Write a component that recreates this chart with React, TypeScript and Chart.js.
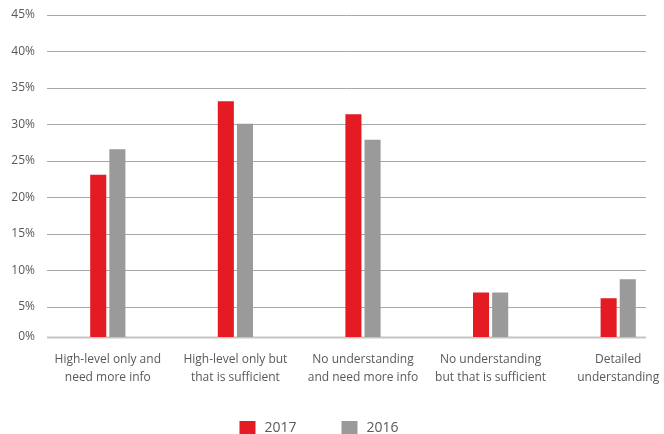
import React, { useEffect, useRef } from "react";
import { Chart, registerables } from "chart.js";
Chart.register(...registerables);

const categories: string[][] = [
  ["High-level only and", "need more info"],
  ["High-level only but", "that is sufficient"],
  ["No understanding", "and need more info"],
  ["No understanding", "but that is sufficient"],
  ["Detailed", "understanding"],
];
const series2017: number[] = [23.1, 33.2, 31.4, 7.0, 6.2];
const series2016: number[] = [26.6, 30.1, 27.9, 7.0, 8.8];
const yTickValues: number[] = [0, 5, 10, 15, 20, 25, 30, 35, 40, 45];
const Y_FLOOR = 0.89; // the reference baseline sits slightly above true zero

const FONT = "'Open Sans', sans-serif";
const TEXT_COLOR = "#595959";

const gridPlugin = {
  id: "customGrid",
  beforeDatasetsDraw(chart: any) {
    const { ctx, chartArea, scales } = chart;
    const y = scales.y;
    ctx.save();
    y.ticks.forEach((t: any) => {
      const py = Math.round(y.getPixelForValue(t.value)) + 0.5;
      const isBase = t.value < 1;
      ctx.strokeStyle = isBase ? "#c4c4c4" : "#a8a8a8";
      ctx.lineWidth = isBase ? 2 : 1;
      ctx.beginPath();
      ctx.moveTo(chartArea.left + 3, py);
      ctx.lineTo(chartArea.right - 36, py);
      ctx.stroke();
    });
    ctx.restore();
  },
};

const legendPlugin = {
  id: "customLegend",
  afterDraw(chart: any) {
    const { ctx } = chart;
    const box = 16;
    const gapText = 9;
    const gapItems = 45;
    ctx.save();
    ctx.font = `14px ${FONT}`;
    const items = chart.data.datasets.map((d: any) => ({
      label: d.label,
      color: d.backgroundColor,
      w: ctx.measureText(d.label).width,
    }));
    const total =
      items.reduce((s: number, it: any) => s + box + gapText + it.w, 0) + gapItems * (items.length - 1);
    let x = 319 - total / 2;
    const top = 421;
    items.forEach((it: any) => {
      ctx.fillStyle = it.color;
      ctx.fillRect(x, top, box, box);
      ctx.fillStyle = TEXT_COLOR;
      ctx.textBaseline = "alphabetic";
      ctx.textAlign = "left";
      ctx.fillText(it.label, x + box + gapText, top + 10.5);
      x += box + gapText + it.w + gapItems;
    });
    ctx.restore();
  },
};

export default function App() {
  const ref = useRef<HTMLCanvasElement>(null);
  useEffect(() => {
    document.body.style.margin = "0";
    document.body.style.overflow = "hidden";
    document.documentElement.style.overflow = "hidden";
    const chart = new Chart(ref.current!, {
      type: "bar",
      data: {
        labels: categories,
        datasets: [
          { label: "2017", data: series2017, backgroundColor: "#e41b23", barPercentage: 0.84, categoryPercentage: 0.3 },
          { label: "2016", data: series2016, backgroundColor: "#9a9a9a", barPercentage: 0.84, categoryPercentage: 0.3 },
        ],
      },
      options: {
        animation: false,
        responsive: false,
        maintainAspectRatio: false,
        layout: { padding: { top: 15, left: 0, right: 0, bottom: 44 } },
        plugins: {
          tooltip: { enabled: false },
          legend: { display: false },
        },
        scales: {
          x: {
            grid: { display: false },
            border: { display: false },
            afterFit: (scale: any) => {
              scale.height = 53;
            },
            ticks: {
              color: TEXT_COLOR,
              padding: 6,
              maxRotation: 0,
              autoSkip: false,
              font: { family: FONT, size: 12, lineHeight: 1.5 },
            },
          },
          y: {
            min: Y_FLOOR,
            max: 45,
            grid: { display: false },
            border: { display: false },
            afterBuildTicks: (scale: any) => {
              scale.ticks = yTickValues.map((v) => ({ value: v === 0 ? Y_FLOOR : v }));
            },
            afterFit: (scale: any) => {
              scale.width = 44;
            },
            ticks: {
              color: TEXT_COLOR,
              padding: 1,
              font: { family: FONT, size: 12 },
              callback: (v: any) => (Number(v) < 1 ? "0%" : Math.round(Number(v)) + "%"),
            },
          },
        },
      },
      plugins: [gridPlugin, legendPlugin],
    });
    return () => chart.destroy();
  }, []);
  return (
    <div style={{ width: 664, height: 434, overflow: "hidden" }}>
      <canvas ref={ref} width={682} height={434} style={{ display: "block" }} />
    </div>
  );
}
